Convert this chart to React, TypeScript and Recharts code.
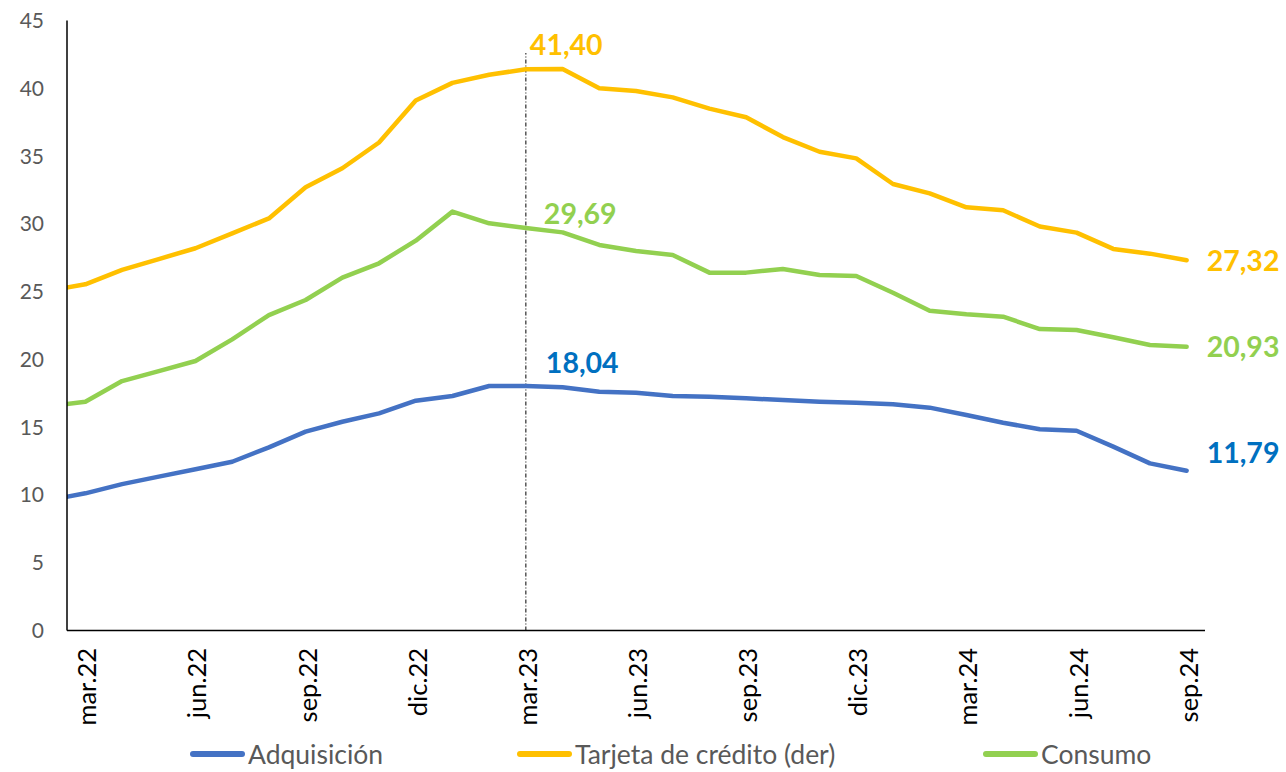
import React from 'react';
import { LineChart, Line, XAxis, YAxis, ReferenceLine, Legend } from 'recharts';

// Months: feb.22 is the lead-in point (clipped at the axis), then mar.22 .. sep.24
const months = [
  'feb.22', 'mar.22', 'abr.22', 'may.22', 'jun.22', 'jul.22', 'ago.22', 'sep.22', 'oct.22', 'nov.22', 'dic.22',
  'ene.23', 'feb.23', 'mar.23', 'abr.23', 'may.23', 'jun.23', 'jul.23', 'ago.23', 'sep.23', 'oct.23', 'nov.23', 'dic.23',
  'ene.24', 'feb.24', 'mar.24', 'abr.24', 'may.24', 'jun.24', 'jul.24', 'ago.24', 'sep.24',
];

const adquisicion = [
  9.62, 10.12, 10.8, 11.35, 11.89, 12.45, 13.51, 14.67, 15.4, 16.02, 16.95,
  17.3, 18.04, 18.04, 17.94, 17.62, 17.54, 17.3, 17.25, 17.13, 17.0, 16.88, 16.81,
  16.69, 16.44, 15.9, 15.33, 14.84, 14.74, 13.56, 12.33, 11.79,
];

const tarjeta = [
  25.06, 25.54, 26.6, 27.4, 28.2, 29.3, 30.4, 32.7, 34.1, 36.0, 39.1,
  40.4, 41.0, 41.4, 41.42, 40.0, 39.8, 39.33, 38.5, 37.86, 36.4, 35.32, 34.83,
  32.94, 32.25, 31.22, 31.0, 29.8, 29.35, 28.15, 27.8, 27.32,
];

const consumo = [
  16.54, 16.88, 18.4, 19.14, 19.88, 21.48, 23.27, 24.38, 26.03, 27.09, 28.76,
  30.9, 30.04, 29.69, 29.37, 28.44, 28.0, 27.7, 26.4, 26.4, 26.67, 26.22, 26.15,
  24.92, 23.59, 23.33, 23.15, 22.24, 22.17, 21.63, 21.06, 20.93,
];

const yTicks = [0, 5, 10, 15, 20, 25, 30, 35, 40, 45];
const xTicks = [0, 3, 6, 9, 12, 15, 18, 21, 24, 27, 30];
const markerIdx = 12; // mar.23
const lastIdx = 30; // sep.24
const markerTop = 42.6;

const data = months.map((m, i) => ({
  idx: i - 1,
  month: m,
  adq: adquisicion[i],
  tar: tarjeta[i],
  con: consumo[i],
}));

const FONT = 'Lato, "Noto Sans", sans-serif';

const fmt = (v: number) => v.toFixed(2).replace('.', ',');

function makeLabel(color: string, offMarker: [number, number], offLast: [number, number]) {
  return (props: any) => {
    const vb = props.viewBox || {};
    const x = props.x ?? vb.x;
    const y = props.y ?? vb.y;
    const i = props.index;
    const row = data[i];
    if (!row || x == null || y == null) return <g />;
    let off: [number, number] | null = null;
    if (row.idx === markerIdx) off = offMarker;
    else if (row.idx === lastIdx) off = offLast;
    if (!off) return <g />;
    return (
      <text
        x={x + off[0]}
        y={y + off[1]}
        fill={color}
        fontSize={28.5}
        fontWeight={700}
        fontFamily={FONT}
        textAnchor="start"
      >
        {fmt(Number(props.value))}
      </text>
    );
  };
}

const XTick = (props: any) => {
  const { x, y, payload } = props;
  const label = months[payload.value + 1];
  return (
    <text
      transform={`translate(${x + 11},${y + 17.5}) rotate(-90)`}
      textAnchor="end"
      fontSize={25.5}
      fontFamily={FONT}
      fill="#000"
    >
      {label}
    </text>
  );
};

const legendItems = [
  { name: 'Adquisición', color: '#4472C4', left: 190 },
  { name: 'Tarjeta de crédito (der)', color: '#FFC000', left: 517 },
  { name: 'Consumo', color: '#92D050', left: 983 },
];

const LegendContent = () => (
  <div style={{ position: 'relative', width: 1286, height: 40 }}>
    {legendItems.map((it) => (
      <div
        key={it.name}
        style={{
          position: 'absolute',
          left: it.left,
          top: 6,
          height: 32,
          display: 'flex',
          alignItems: 'center',
          whiteSpace: 'nowrap',
        }}
      >
        <div style={{ width: 55, height: 5.5, background: it.color, borderRadius: 3 }} />
        <span
          style={{
            marginLeft: 3,
            fontFamily: FONT,
            fontSize: 26.5,
            color: '#595959',
            lineHeight: '32px',
          }}
        >
          {it.name}
        </span>
      </div>
    ))}
  </div>
);

export default function App() {
  return (
    <div style={{ position: 'absolute', left: 0, top: 0, width: 1286, height: 772, background: '#fff' }}>
      <LineChart
        width={1286}
        height={772}
        data={data}
        margin={{ top: 20.5, right: 81, bottom: 0, left: 0 }}
        style={{ fontFamily: FONT }}
      >
        <XAxis
          type="number"
          dataKey="idx"
          domain={[-0.5, 30.5]}
          ticks={xTicks}
          interval={0}
          allowDataOverflow
          tickLine={false}
          tickSize={0}
          tickMargin={0}
          axisLine={{ stroke: '#000', strokeWidth: 1.5 }}
          height={101.5}
          tick={<XTick />}
        />
        <YAxis
          type="number"
          domain={[0, 45]}
          ticks={yTicks}
          interval={0}
          width={67}
          tickLine={false}
          tickSize={0}
          tickMargin={23}
          axisLine={{ stroke: '#000', strokeWidth: 1.5 }}
          tick={{ fill: '#595959', fontSize: 21, fontFamily: FONT }}
        />
        <ReferenceLine
          segment={[
            { x: markerIdx, y: 0 },
            { x: markerIdx, y: markerTop },
          ]}
          stroke="#000"
          strokeWidth={1}
          strokeDasharray="4 2 1 2"
        />
        <Legend
          verticalAlign="bottom"
          align="left"
          wrapperStyle={{ left: 0, bottom: 0, width: 1286, height: 40 }}
          content={() => <LegendContent />}
        />
        <Line
          type="linear"
          dataKey="tar"
          name="Tarjeta de crédito (der)"
          stroke="#FFC000"
          strokeWidth={4.5}
          strokeLinejoin="round"
          strokeLinecap="round"
          dot={false}
          activeDot={false}
          isAnimationActive={false}
          label={makeLabel('#FFC000', [4, -14], [20, 10.7])}
        />
        <Line
          type="linear"
          dataKey="con"
          name="Consumo"
          stroke="#92D050"
          strokeWidth={4.5}
          strokeLinejoin="round"
          strokeLinecap="round"
          dot={false}
          activeDot={false}
          isAnimationActive={false}
          label={makeLabel('#92D050', [18, -4], [20, 10.7])}
        />
        <Line
          type="linear"
          dataKey="adq"
          name="Adquisición"
          stroke="#4472C4"
          strokeWidth={4.5}
          strokeLinejoin="round"
          strokeLinecap="round"
          dot={false}
          activeDot={false}
          isAnimationActive={false}
          label={makeLabel('#0070C0', [20, -13], [20, -8])}
        />
      </LineChart>
    </div>
  );
}
